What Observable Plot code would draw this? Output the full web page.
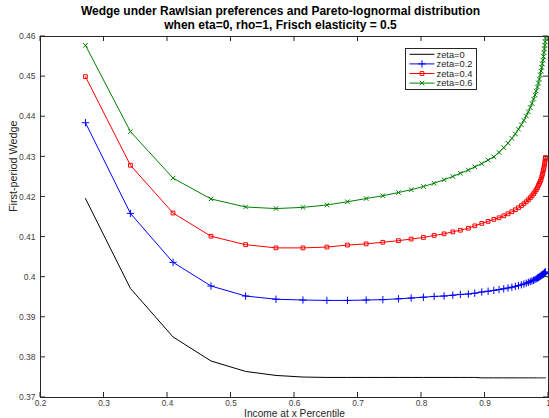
<!DOCTYPE html>
<html>
<head>
<meta charset="utf-8">
<script src="https://cdn.jsdelivr.net/npm/d3@7"></script>
<script src="https://cdn.jsdelivr.net/npm/@observablehq/plot@0.6"></script>
<style>
  body { margin: 0; background: #fff; }
  #chart svg { display: block; }
</style>
</head>
<body>
<div id="chart"></div>
<script>
// Income percentile grid (x) shared by every series
const percentile = [
  0.2708, 0.3416, 0.4087, 0.4685, 0.5230, 0.5708, 0.6133, 0.6510, 0.6834, 0.7129,
  0.7391, 0.7637, 0.7837, 0.8030, 0.8199, 0.8356, 0.8493, 0.8612, 0.8738, 0.8839,
  0.8949, 0.9049, 0.9139, 0.9221, 0.9295, 0.9362, 0.9423, 0.9478, 0.9527, 0.9572,
  0.9613, 0.9650, 0.9683, 0.9713, 0.9740, 0.9765, 0.9787, 0.9807, 0.9826, 0.9842,
  0.9857, 0.9871, 0.9883, 0.9894, 0.9904, 0.9913, 0.9921, 0.9929, 0.9936, 0.9942,
  0.9947, 0.9952
];

// First-period wedge for each zeta
const wedgeZeta0 = [
  0.4196, 0.3972, 0.3851, 0.3791, 0.3765, 0.3755, 0.3751, 0.3750, 0.3750, 0.3750,
  0.3750, 0.3750, 0.3750, 0.3750, 0.3750, 0.3750, 0.3750, 0.3750, 0.3750, 0.3750,
  0.3749, 0.3749, 0.3749, 0.3749, 0.3749, 0.3749, 0.3749, 0.3749, 0.3749, 0.3749,
  0.3749, 0.3749, 0.3749, 0.3749, 0.3749, 0.3749, 0.3749, 0.3749, 0.3749, 0.3749,
  0.3749, 0.3749, 0.3749, 0.3749, 0.3749, 0.3749, 0.3749, 0.3749, 0.3749, 0.3749,
  0.3749, 0.3749
];
const wedgeZeta02 = [
  0.4385, 0.4159, 0.4037, 0.3978, 0.3953, 0.3945, 0.3943, 0.3942, 0.3942, 0.3943,
  0.3944, 0.3946, 0.3948, 0.3950, 0.3952, 0.3953, 0.3955, 0.3957, 0.3958, 0.3960,
  0.3963, 0.3965, 0.3967, 0.3969, 0.3971, 0.3973, 0.3975, 0.3977, 0.3979, 0.3981,
  0.3983, 0.3985, 0.3987, 0.3989, 0.3991, 0.3992, 0.3994, 0.3996, 0.3998, 0.3999,
  0.4001, 0.4002, 0.4004, 0.4005, 0.4006, 0.4007, 0.4008, 0.4009, 0.4010, 0.4011,
  0.4012, 0.4013
];
const wedgeZeta04 = [
  0.4500, 0.4279, 0.4160, 0.4102, 0.4081, 0.4073, 0.4073, 0.4075, 0.4080, 0.4083,
  0.4087, 0.4091, 0.4095, 0.4099, 0.4104, 0.4108, 0.4113, 0.4117, 0.4122, 0.4128,
  0.4134, 0.4139, 0.4144, 0.4148, 0.4153, 0.4158, 0.4163, 0.4168, 0.4173, 0.4178,
  0.4183, 0.4188, 0.4193, 0.4198, 0.4203, 0.4208, 0.4213, 0.4218, 0.4223, 0.4229,
  0.4234, 0.4239, 0.4244, 0.4250, 0.4256, 0.4262, 0.4268, 0.4274, 0.4280, 0.4286,
  0.4292, 0.4298
];
const wedgeZeta06 = [
  0.4578, 0.4363, 0.4247, 0.4195, 0.4175, 0.4171, 0.4174, 0.4180, 0.4188, 0.4196,
  0.4203, 0.4211, 0.4218, 0.4226, 0.4234, 0.4243, 0.4251, 0.4259, 0.4267, 0.4275,
  0.4283, 0.4292, 0.4300, 0.4311, 0.4323, 0.4334, 0.4346, 0.4357, 0.4369, 0.4380,
  0.4391, 0.4402, 0.4412, 0.4423, 0.4433, 0.4444, 0.4454, 0.4464, 0.4474, 0.4484,
  0.4494, 0.4504, 0.4514, 0.4523, 0.4532, 0.4541, 0.4550, 0.4560, 0.4569, 0.4578,
  0.4587, 0.4596
];

const seriesNames = ["zeta=0", "zeta=0.2", "zeta=0.4", "zeta=0.6"];
const seriesColors = ["#000000", "#0000ff", "#ff0000", "#008000"];
const seriesSymbols = [null, "plus", "square2", "times"];
const seriesValues = [wedgeZeta0, wedgeZeta02, wedgeZeta04, wedgeZeta06];

const xTicks = [0.2, 0.3, 0.4, 0.5, 0.6, 0.7, 0.8, 0.9, 1];
const yTicks = [0.37, 0.38, 0.39, 0.4, 0.41, 0.42, 0.43, 0.44, 0.45, 0.46];

const titleLines = [
  "Wedge under Rawlsian preferences and Pareto-lognormal distribution",
  "when eta=0, rho=1, Frisch elasticity = 0.5"
];
const xLabel = "Income at x Percentile";
const yLabel = "First-period Wedge";

(function draw() {
  // long-format table for the marks
  const rows = seriesNames.flatMap((name, s) =>
    percentile.map((p, i) => ({series: name, x: p, y: seriesValues[s][i]}))
  );

  const axisColor = "#262626";
  const font = "'Liberation Sans', Arial, Helvetica, sans-serif";
  const markerSize = {plus: 2.5, square2: 2.4, times: 2.2};

  const markerMarks = seriesNames.map((name, s) => seriesSymbols[s] == null ? null :
    Plot.dot(rows.filter(d => d.series === name), {
      x: "x", y: "y",
      symbol: () => seriesSymbols[s],
      r: markerSize[seriesSymbols[s]],
      stroke: seriesColors[s],
      fill: "none",
      strokeWidth: 1
    })
  ).filter(Boolean);

  const chart = Plot.plot({
    width: 549,
    height: 418,
    marginLeft: 40,
    marginRight: 1,
    marginTop: 36,
    marginBottom: 21,
    style: {fontFamily: font, background: "#fff", overflow: "visible"},
    x: {domain: [0.2, 1]},
    y: {domain: [0.37, 0.46]},
    color: {domain: seriesNames, range: seriesColors},
    symbol: {domain: ["plus", "square2", "times"], range: ["plus", "square2", "times"]},
    marks: [
      Plot.frame({stroke: axisColor, strokeWidth: 1}),
      Plot.line(rows, {x: "x", y: "y", z: "series", stroke: "series", strokeWidth: 1}),
      ...markerMarks,
      Plot.axisX({ticks: xTicks, anchor: "bottom", tickSize: 0, tickPadding: 2.5,
        fontSize: 8.3, color: "#404040", label: null, tickFormat: d => String(d)}),
      Plot.axisY({ticks: yTicks, anchor: "left", tickSize: 0, tickPadding: 5,
        fontSize: 8.5, color: "#404040", label: null, tickFormat: d => String(d)}),
      Plot.text([titleLines[0]], {frameAnchor: "top", dx: -14, dy: -25, lineAnchor: "middle",
        fontSize: 12, fontWeight: "bold", fill: "#000"}),
      Plot.text([titleLines[1]], {frameAnchor: "top", dx: -14, dy: -11, lineAnchor: "middle",
        fontSize: 12, fontWeight: "bold", fill: "#000"}),
      Plot.text([xLabel], {frameAnchor: "bottom", dy: 16, lineAnchor: "middle",
        fontSize: 10.2, fill: axisColor}),
      Plot.text([yLabel], {frameAnchor: "left", dx: -27, dy: -5, rotate: -90,
        lineAnchor: "middle", fontSize: 10.8, fill: axisColor})
    ]
  });

  document.getElementById("chart").append(chart);

  const svg = d3.select(chart);
  const sx = chart.scale("x"), sy = chart.scale("y");
  const [xLeft, xRight] = sx.range;
  const [yBottom, yTop] = sy.range;
  const tickLen = 5;

  // inward tick marks on all four sides of the box
  const tickGroup = svg.append("g").attr("stroke", axisColor).attr("stroke-width", 1);
  xTicks.forEach(v => {
    const px = sx.apply(v);
    tickGroup.append("line").attr("x1", px).attr("x2", px).attr("y1", yBottom).attr("y2", yBottom - tickLen);
    tickGroup.append("line").attr("x1", px).attr("x2", px).attr("y1", yTop).attr("y2", yTop + tickLen);
  });
  yTicks.forEach(v => {
    const py = sy.apply(v);
    tickGroup.append("line").attr("x1", xLeft).attr("x2", xLeft + tickLen).attr("y1", py).attr("y2", py);
    tickGroup.append("line").attr("x1", xRight).attr("x2", xRight - tickLen).attr("y1", py).attr("y2", py);
  });

  // legend box in the upper right of the axes
  const legend = svg.append("g").attr("transform", "translate(405.5,48.5)")
    .style("font-family", font);
  legend.append("rect").attr("width", 71).attr("height", 41)
    .attr("fill", "#fff").attr("stroke", axisColor).attr("stroke-width", 1);
  const symbolTypes = {plus: d3.symbolPlus, square2: d3.symbolSquare2, times: d3.symbolTimes};
  seriesNames.forEach((name, s) => {
    const yRow = 5.8 + s * 9.6;
    const row = legend.append("g").attr("transform", `translate(0,${yRow})`);
    row.append("line").attr("x1", 4).attr("x2", 29).attr("y1", 0).attr("y2", 0)
      .attr("stroke", seriesColors[s]).attr("stroke-width", 1);
    if (seriesSymbols[s]) {
      const r = markerSize[seriesSymbols[s]];
      row.append("path")
        .attr("transform", "translate(16.5,0)")
        .attr("d", d3.symbol(symbolTypes[seriesSymbols[s]], r * r * Math.PI)())
        .attr("fill", "none").attr("stroke", seriesColors[s]).attr("stroke-width", 1);
    }
    row.append("text").attr("x", 31).attr("y", 0).attr("dy", "0.35em")
      .attr("text-anchor", "start")
      .attr("font-size", 9.3).attr("fill", axisColor).text(name);
  });
})();
</script>
</body>
</html>
